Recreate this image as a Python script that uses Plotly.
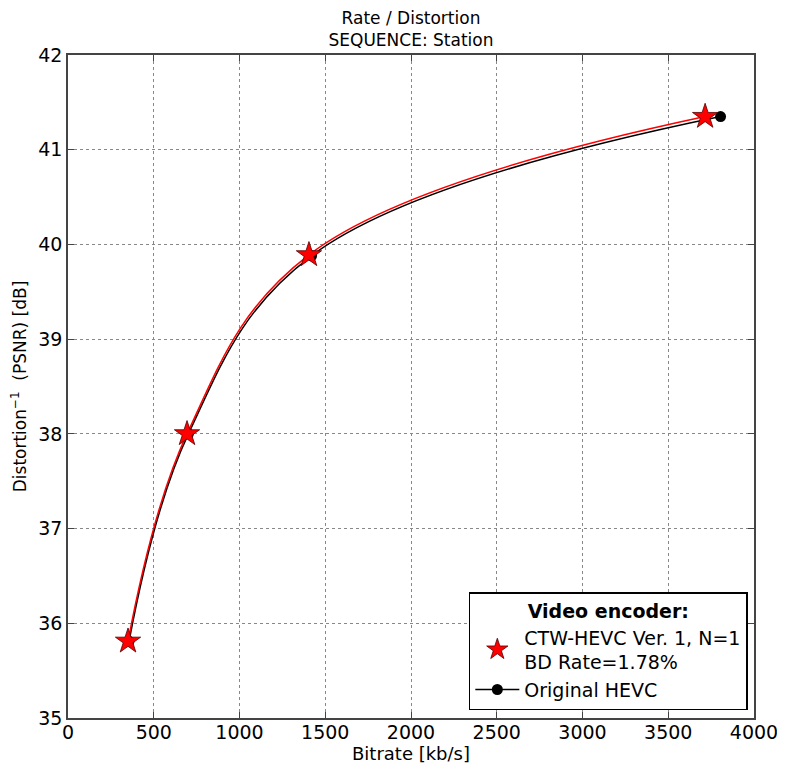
import plotly.graph_objects as go

ctw_rate = [350, 694, 1405, 3715]
ctw_psnr = [35.81, 38.00, 39.89, 41.35]
hevc_rate = [356, 702, 1420, 3805]
hevc_psnr = [35.81, 38.00, 39.88, 41.35]

x_ticks = [0, 500, 1000, 1500, 2000, 2500, 3000, 3500, 4000]
y_ticks = [35, 36, 37, 38, 39, 40, 41, 42]

font = "DejaVu Sans"

fig = go.Figure()
fig.add_trace(go.Scatter(
    x=hevc_rate, y=hevc_psnr, mode="lines+markers",
    line=dict(color="black", width=1.5, shape="spline", smoothing=1.1),
    marker=dict(symbol="circle", size=11, color="black"),
    name="Original HEVC", legendrank=2))
fig.add_trace(go.Scatter(
    x=ctw_rate, y=ctw_psnr, mode="lines",
    line=dict(color="red", width=1.5, shape="spline", smoothing=1.1),
    showlegend=False, hoverinfo="skip"))
fig.add_trace(go.Scatter(
    x=ctw_rate, y=ctw_psnr, mode="markers",
    marker=dict(symbol="star", size=19, color="red", line=dict(color="#550000", width=0.8)),
    name="CTW-HEVC Ver. 1, N=1<br>BD Rate=1.78%", legendrank=1))

axis_common = dict(
    showline=True, linecolor="#444", linewidth=1.5, mirror="allticks",
    ticks="inside", ticklen=6, tickcolor="#444",
    showgrid=True, gridcolor="#888", griddash="dot", gridwidth=1,
    zeroline=False, automargin=False, ticklabeloverflow="allow",
    tickfont=dict(family=font, size=19, color="black"),
)

# page body has an 8px margin, so the figure is sized/offset to compensate
fig.update_layout(
    width=777, height=764,
    paper_bgcolor="white", plot_bgcolor="white",
    margin=dict(l=60, r=31, t=47, b=54, autoexpand=False),
    font=dict(family=font, color="black"),
    title=dict(text="Rate / Distortion<br>SEQUENCE: Station", x=0.5, xanchor="center",
               xref="paper", y=0.979, yref="container", yanchor="top",
               font=dict(family=font, size=17, color="black")),
    xaxis=dict(range=[0, 4000], tickvals=x_ticks, ticklabelstandoff=-4,
               title=dict(text="Bitrate [kb/s]", standoff=0,
               font=dict(family=font, size=18)), **axis_common),
    yaxis=dict(range=[35, 42], tickvals=y_ticks,
               title=dict(text="Distortion<sup>−1</sup>  (PSNR) [dB]", standoff=10,
                          font=dict(family=font, size=17)), **axis_common),
    legend=dict(
        x=0.991, y=0.012, xanchor="right", yanchor="bottom",
        bgcolor="white", bordercolor="black", borderwidth=1.5,
        font=dict(family=font, size=19, color="black"),
        title=dict(text="<b>Video encoder:</b>", side="top center", font=dict(family=font, size=19)),
        tracegroupgap=2, itemwidth=44,
    ),
)

fig.write_html("out.html")
